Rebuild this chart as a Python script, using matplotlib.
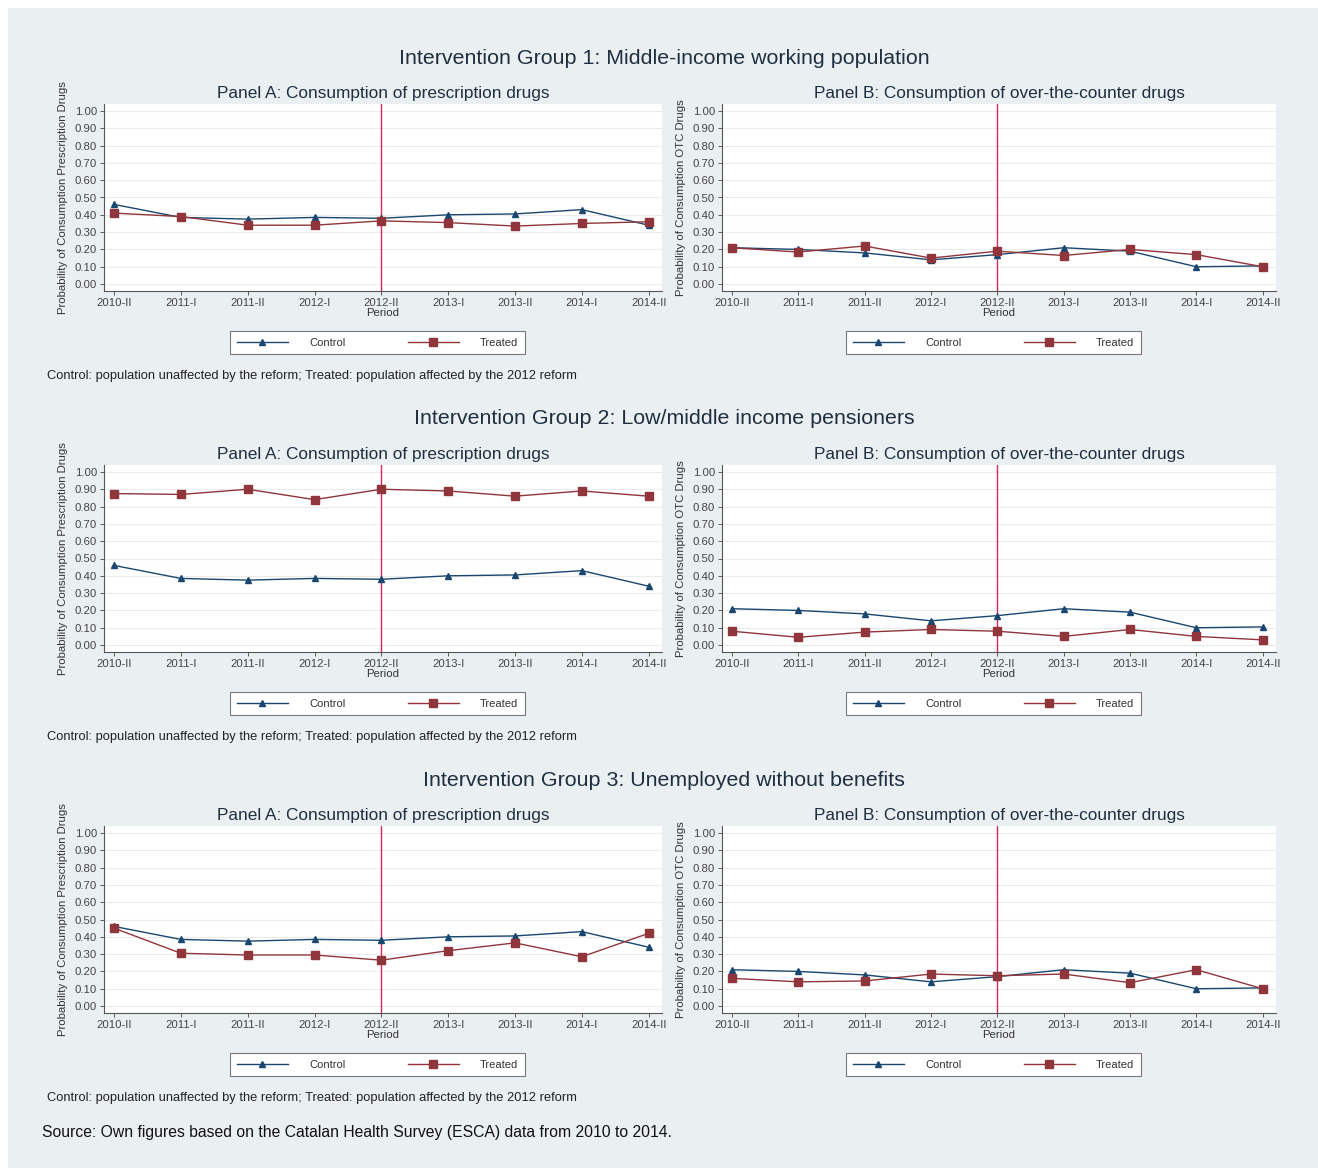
import matplotlib
matplotlib.use("Agg")
import matplotlib.pyplot as plt
from matplotlib.patches import Rectangle

plt.rcParams['font.family'] = ['Liberation Sans', 'DejaVu Sans']

periods = ["2010-II", "2011-I", "2011-II", "2012-I", "2012-II",
           "2013-I", "2013-II", "2014-I", "2014-II"]
reform_period = 4  # index of 2012-II

# control series (same in every group)
control_presc = [0.46, 0.385, 0.375, 0.385, 0.38, 0.40, 0.405, 0.43, 0.34]
control_otc = [0.21, 0.20, 0.18, 0.14, 0.17, 0.21, 0.19, 0.10, 0.105]

# treated series by group
g1_presc = [0.41, 0.39, 0.34, 0.34, 0.365, 0.355, 0.335, 0.35, 0.36]
g1_otc = [0.21, 0.185, 0.22, 0.15, 0.19, 0.165, 0.20, 0.17, 0.10]
g2_presc = [0.875, 0.87, 0.90, 0.84, 0.90, 0.89, 0.86, 0.89, 0.86]
g2_otc = [0.08, 0.045, 0.075, 0.09, 0.08, 0.05, 0.09, 0.05, 0.03]
g3_presc = [0.45, 0.305, 0.295, 0.295, 0.265, 0.32, 0.365, 0.285, 0.42]
g3_otc = [0.16, 0.14, 0.145, 0.185, 0.175, 0.185, 0.135, 0.21, 0.10]

group_titles = ["Intervention Group 1: Middle-income working population",
                "Intervention Group 2: Low/middle income pensioners",
                "Intervention Group 3: Unemployed without benefits"]
treated_presc = [g1_presc, g2_presc, g3_presc]
treated_otc = [g1_otc, g2_otc, g3_otc]

panel_titles = ["Panel A: Consumption of prescription drugs",
                "Panel B: Consumption of over-the-counter drugs"]
ylabels = ["Probability of Consumption Prescription Drugs",
           "Probability of Consumption OTC Drugs"]
yticks = [0.0, 0.1, 0.2, 0.3, 0.4, 0.5, 0.6, 0.7, 0.8, 0.9, 1.0]

footnote = "Control: population unaffected by the reform; Treated: population affected by the 2012 reform"
source = "Source: Own figures based on the Catalan Health Survey (ESCA) data from 2010 to 2014."

NAVY = "#1a476f"
MAROON = "#90353b"
RED = "#e0245e"
BG = "#eaeff2"

W, H = 1318, 1168
fig = plt.figure(figsize=(W / 100, H / 100), dpi=100, facecolor="white")
fig.patches.append(Rectangle((8 / W, 0), 1, 1 - 8 / H, transform=fig.transFigure,
                             facecolor=BG, edgecolor="none", zorder=-10))


def px(x0, y_top, x1, y_bot):
    return [x0 / W, 1 - y_bot / H, (x1 - x0) / W, (y_bot - y_top) / H]


def draw_panel(ax, control, treated, title, ylabel):
    x = range(len(periods))
    ax.set_facecolor("white")
    for t in yticks:
        ax.axhline(t, color="#ececec", lw=0.8, zorder=0)
    ax.axvline(reform_period, color=RED, lw=1.0, zorder=1)
    ax.plot(x, control, color=NAVY, lw=1.0, marker="^", ms=5, label="Control", zorder=3)
    ax.plot(x, treated, color=MAROON, lw=1.0, marker="s", ms=5.5, label="Treated", zorder=3)
    ax.set_xlim(-0.15, 8.2)
    ax.set_ylim(-0.04, 1.04)
    ax.set_yticks(yticks)
    ax.set_yticklabels([f"{t:.2f}" for t in yticks])
    ax.set_xticks(list(x))
    ax.set_xticklabels(periods)
    ax.tick_params(labelsize=8.2, length=3, width=0.6, colors="#444444", pad=2)
    for s in ["top", "right"]:
        ax.spines[s].set_visible(False)
    for s in ["left", "bottom"]:
        ax.spines[s].set_color("#555555")
        ax.spines[s].set_linewidth(0.8)
    ax.set_xlabel("Period", fontsize=8.2, color="#333333", labelpad=0)
    ax.set_ylabel(ylabel, fontsize=8.2, color="#333333", labelpad=5)
    ax.set_title(title, fontsize=12.4, color="#1f2f3f", pad=4)
    leg = ax.legend(loc="upper center", bbox_to_anchor=(0.49, -0.214), ncol=2,
                    fontsize=8, handlelength=4.6, handletextpad=1.9,
                    columnspacing=5.6, fancybox=False, edgecolor="#777777",
                    framealpha=1, borderpad=0.6, borderaxespad=0)
    leg.get_frame().set_linewidth(0.8)
    for t in leg.get_texts():
        t.set_color("#333333")


for g in range(3):
    off = g * 361
    ax_a = fig.add_axes(px(104, 104 + off, 662, 291 + off))
    ax_b = fig.add_axes(px(722, 104 + off, 1276, 291 + off))
    draw_panel(ax_a, control_presc, treated_presc[g], panel_titles[0], ylabels[0])
    draw_panel(ax_b, control_otc, treated_otc[g], panel_titles[1], ylabels[1])
    fig.text(664 / W, 1 - (58 + off) / H, group_titles[g], fontsize=15.4,
             color="#1f2f3f", ha="center", va="center")
    fig.text(47 / W, 1 - (376 + off) / H, footnote, fontsize=9.3,
             color="#222222", ha="left", va="center")

fig.text(42 / W, 1 - 1133 / H, source, fontsize=11.3, color="#111111",
         ha="left", va="center")

fig.savefig("out.png", dpi=100, facecolor=fig.get_facecolor())
